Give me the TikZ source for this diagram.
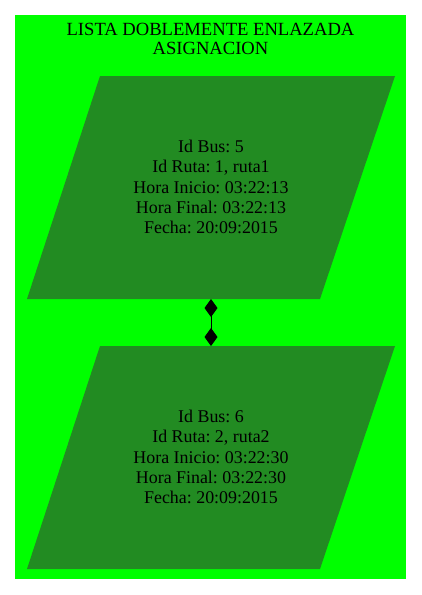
\documentclass[tikz,border=0pt]{standalone}
\usepackage{fontspec}
\setmainfont{Liberation Serif}
\usetikzlibrary{arrows.meta}
\definecolor{bggreen}{HTML}{00FF00}
\definecolor{boxgreen}{HTML}{228B22}
\frenchspacing
\tikzset{
  txt/.style={align=center, inner sep=0pt, font=\fontsize{17.9}{20.3}\selectfont},
  para/.style={fill=boxgreen},
  link/.style={draw=black, line width=1pt, {Turned Square[length=18pt,width=13pt]}-{Turned Square[length=18pt,width=13pt]}}
}
\begin{document}
\begin{tikzpicture}[x=1pt,y=-1pt]
\useasboundingbox (0,0) rectangle (421,595);
\fill[bggreen] (15,15) rectangle (406,579);
\node[txt, font=\fontsize{18.6}{19}\selectfont] (title) at (210.5,39) {LISTA DOBLEMENTE ENLAZADA\\ASIGNACION};
% first record
\fill[para] (100,76) -- (395,76) -- (320,299) -- (27,299) -- cycle;
\coordinate (b1) at (211,299);
\node[txt] (n1) at (211,187) {Id Bus: 5\\Id Ruta: 1, ruta1\\Hora Inicio: 03:22:13\\Hora Final: 03:22:13\\Fecha: 20:09:2015};
% second record
\fill[para] (100,346) -- (395,346) -- (320,569) -- (27,569) -- cycle;
\coordinate (t2) at (211,346);
\node[txt] (n2) at (211,457) {Id Bus: 6\\Id Ruta: 2, ruta2\\Hora Inicio: 03:22:30\\Hora Final: 03:22:30\\Fecha: 20:09:2015};
\draw[link] (b1) -- (t2);
\end{tikzpicture}
\end{document}
